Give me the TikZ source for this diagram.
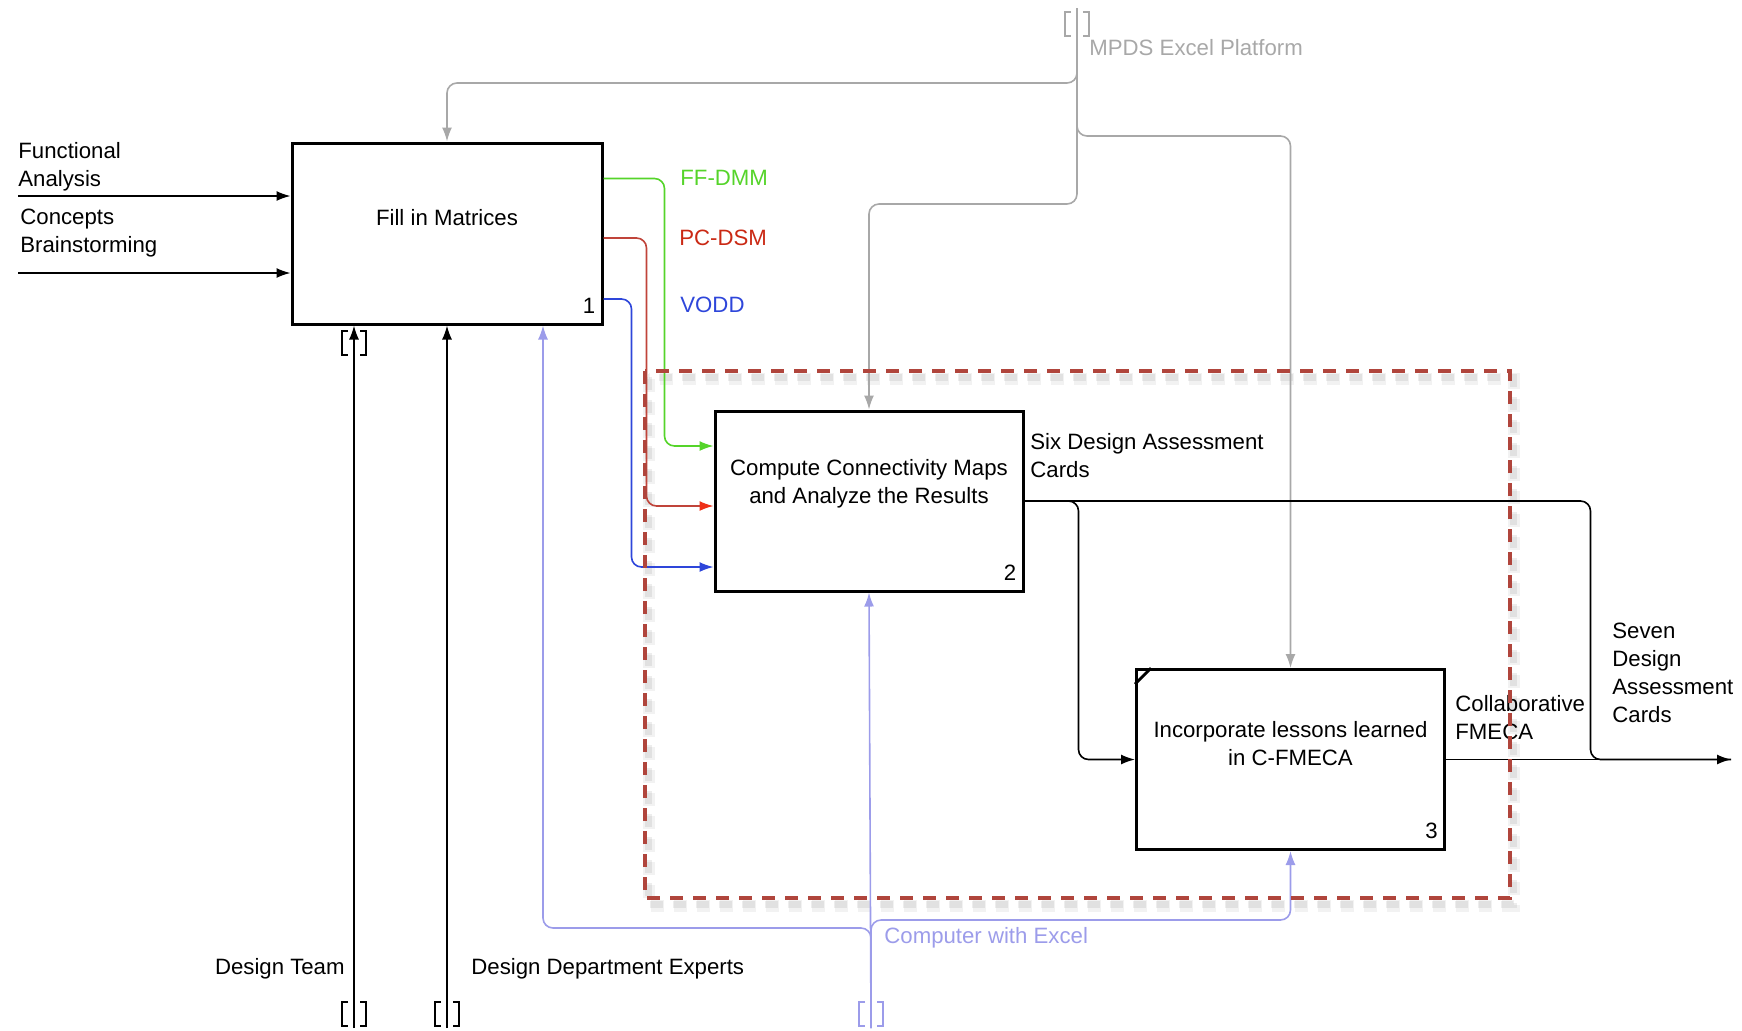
\documentclass[tikz,border=0pt]{standalone}
\usepackage{fontspec}
\setmainfont{Liberation Sans}
\usetikzlibrary{arrows.meta,positioning}

\definecolor{ctrlgray}{HTML}{A8A8A8}
\definecolor{mechblue}{HTML}{9C9CEA}
\definecolor{ffgreen}{HTML}{55D42A}
\definecolor{pcred}{HTML}{C0443A}
\definecolor{pcredtip}{HTML}{EE3018}
\definecolor{voddblue}{HTML}{2E46DA}
\definecolor{scopered}{HTML}{B0453C}

\tikzset{
  tunnel/.pic={
    \draw[line width=0.8pt] (-6,-12) -- (-12,-12) -- (-12,12) -- (-6,12)
                            (6,-12) -- (12,-12) -- (12,12) -- (6,12);
  }
}

\begin{document}
\begin{tikzpicture}[x=0.5pt, y=-0.5pt, >={Latex[length=7pt,width=5pt]},
    font=\fontsize{11.1}{14}\selectfont,
    act/.style={draw, fill=white, line width=1.5pt, minimum width=154pt,
                minimum height=90pt, inner sep=0pt},
    acttext/.style={align=center, inner sep=0pt},
    num/.style={anchor=south east, inner sep=0pt},
    lbl/.style={align=left, anchor=north west, inner sep=0pt},
    flow/.style={line width=0.8pt, rounded corners=5pt},
    ctrl/.style={flow, draw=ctrlgray, -{Latex[length=7pt,width=5pt,color=ctrlgray]}},
    mech/.style={flow, draw=mechblue, -{Latex[length=7pt,width=5pt,color=mechblue]}},
    scopebox/.style={draw=scopered, line width=1.6pt, dash pattern=on 6.5pt off 5pt}]

  \useasboundingbox (0,0) rectangle (1742,1030);

  % Scope shadow
  \draw[black, opacity=0.05, line width=6pt, dash pattern=on 6.5pt off 5pt]
    (649,379) rectangle (1514,906);
  \draw[black, opacity=0.07, line width=3.5pt, dash pattern=on 6.5pt off 5pt]
    (648,377) rectangle (1513,904);

  % Activities
  \node[act, minimum width=155pt, minimum height=90.5pt] (fill) at (447,233.5) {};
  \node[act] (compute) at (869,501) {};
  \node[act] (incorp) at (1290.5,759.5) {};

  \node[acttext] (fillt) at ([yshift=8pt]fill.center) {Fill in Matrices};
  \node[acttext] (computet) at ([yshift=8.5pt]compute.center)
    {Compute Connectivity Maps\\and Analyze the Results};
  \node[acttext] (incorpt) at ([yshift=8pt]incorp.center)
    {Incorporate lessons learned\\in C-FMECA};

  \node[num] (n1) at ([xshift=-4pt,yshift=6pt]fill.south east) {1};
  \node[num] (n2) at ([xshift=-4pt,yshift=6pt]compute.south east) {2};
  \node[num] (n3) at ([xshift=-4pt,yshift=6pt]incorp.south east) {3};

  % corner mark
  \draw[line width=1.4pt] ([yshift=-8pt]incorp.north west) -- ([xshift=8pt]incorp.north west);

  % Inputs
  \coordinate (fa) at (18,196);
  \coordinate (cb) at (18,273);
  \draw[flow,->] (fa) -- (fa -| fill.west);
  \draw[flow,->] (cb) -- (cb -| fill.west);
  \node[lbl] (falbl) at (18,142) {Functional\\Analysis};
  \node[lbl] (cblbl) at (20,209) {Concepts\\Brainstorming};

  % Controls
  \coordinate (mpds) at (1077,8);
  \coordinate (c1turn) at (1077,83);
  \coordinate (c3turn) at (1077,136);
  \coordinate (c2turn) at (1077,204);
  \draw[ctrl] (mpds) -- (c1turn) -| (fill.north);
  \draw[ctrl] (mpds) -- (c3turn) -| (incorp.north);
  \draw[ctrl] (mpds) -- (c2turn) -| (compute.north);
  \pic[ctrlgray] at (1077,24) {tunnel};
  \node[anchor=west, inner sep=0pt, text=ctrlgray] (mpdslbl) at (1089,48) {MPDS Excel Platform};

  % Matrices
  \draw[flow, ffgreen, ->] ([yshift=27.5pt]fill.east) -- ++(61,0) |- ([yshift=27.5pt]compute.west);
  \draw[flow, pcred, -{Latex[length=7pt,width=5pt,color=pcredtip]}]
    ([yshift=-2.25pt]fill.east) -- ++(43,0) |- ([yshift=-2.5pt]compute.west);
  \draw[flow, voddblue, ->] ([yshift=-32.75pt]fill.east) -- ++(28,0) |- ([yshift=-33pt]compute.west);
  \node[anchor=west, inner sep=0pt, text=ffgreen] (fflbl) at (680,178) {FF-DMM};
  \node[anchor=west, inner sep=0pt, text=pcredtip!85!black] (pclbl) at (679,238) {PC-DSM};
  \node[anchor=west, inner sep=0pt, text=voddblue] (voddlbl) at (680,305) {VODD};

  % Cards
  \coordinate (out) at (1731,759.5);
  \draw[flow,->] (compute.east) -- ++(54,0) |- (incorp.west);
  \draw[flow] (compute.east) -- ++(566,0) |- (out);
  \draw[flow,->] (incorp.east) -- (out);
  \node[lbl] (sixlbl) at (1030,433) {Six Design Assessment\\Cards};
  \node[lbl] (fmecalbl) at (1455,695) {Collaborative\\FMECA};
  \node[lbl] (sevenlbl) at (1612,623) {Seven\\Design\\Assessment\\Cards};

  % Mechanisms
  \coordinate (dt) at (354,1028);
  \coordinate (dde) at (447,1028);
  \coordinate (cwe) at (871,1028);
  \coordinate (cwl) at (871,928);
  \coordinate (cwr) at (871,920);
  \coordinate (fillm3) at ([xshift=48pt]fill.south);
  \draw[flow,->] (dt) -- (dt |- fill.south);
  \draw[flow,->] (dde) -- (fill.south);
  \draw[mech] (cwe) -- (cwl) -| (fillm3);
  \draw[mech] (cwe) -- (cwr) -| (incorp.south);
  \draw[mech] (cwe) -- (compute.south);
  \pic at (354,343) {tunnel};
  \pic at (354,1014) {tunnel};
  \pic at (447,1014) {tunnel};
  \pic[mechblue] at (871,1014) {tunnel};
  \node[anchor=east, inner sep=0pt] (dtlbl) at (345,969) {Design Team};
  \node[anchor=west, inner sep=0pt] (ddelbl) at (471,969) {Design Department Experts};
  \node[anchor=west, inner sep=0pt, text=mechblue] (cwelbl) at (884,938) {Computer with Excel};

  % Scope
  \draw[scopebox] (645,371) rectangle (1510,898);
\end{tikzpicture}
\end{document}
